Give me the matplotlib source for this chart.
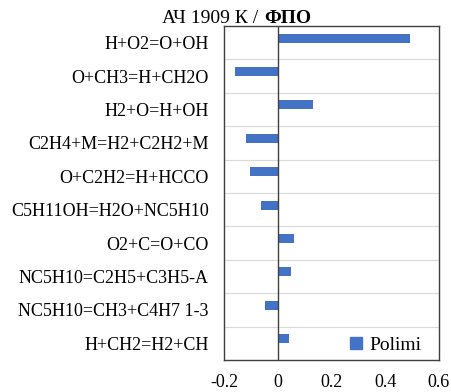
import numpy as np
import matplotlib
matplotlib.use('Agg')
import matplotlib.pyplot as plt
from matplotlib.patches import Patch

reactions = ['H+O2=O+OH', 'O+CH3=H+CH2O', 'H2+O=H+OH', 'C2H4+M=H2+C2H2+M',
             'O+C2H2=H+HCCO', 'C5H11OH=H2O+NC5H10', 'O2+C=O+CO',
             'NC5H10=C2H5+C3H5-A', 'NC5H10=CH3+C4H7 1-3', 'H+CH2=H2+CH']
polimi = [0.491, -0.158, 0.131, -0.118, -0.103, -0.064, 0.059, 0.050, -0.046, 0.041]
xticks = [-0.2, 0, 0.2, 0.4, 0.6]
xlabels = ['-0.2', '0', '0.2', '0.4', '0.6']

plt.rcParams['font.family'] = ['Liberation Serif', 'DejaVu Serif']
plt.rcParams['font.size'] = 13

fig = plt.figure(figsize=(4.52, 3.92), dpi=100)
W, H = 452, 392
ax = fig.add_axes([224 / W, 1 - 360 / H, (439 - 224) / W, (360 - 26) / H])

ypos = np.arange(len(reactions))
bar_h = 0.27
ax.barh(ypos - bar_h / 2, polimi, height=bar_h, color='#4472C4', zorder=3)

ax.set_ylim(len(reactions) - 0.5, -0.5)
ax.set_xlim(-0.2, 0.6)
ax.set_yticks(ypos)
ax.set_yticklabels(reactions)
ax.set_xticks(xticks)
ax.set_xticklabels(xlabels)
ax.tick_params(length=0)
ax.tick_params(axis='y', pad=11)
ax.tick_params(axis='x', pad=10)

# row separators
for b in np.arange(0.5, len(reactions) - 0.5, 1):
    ax.axhline(b, color='#D9D9D9', lw=0.8, zorder=1)
ax.axvline(0, color='#404040', lw=1.0, zorder=4)
for s in ax.spines.values():
    s.set_color('#404040')
    s.set_linewidth(1.0)

ax.legend(handles=[Patch(color='#4472C4', label='Polimi')], loc='lower right',
          frameon=False, handlelength=0.6, handleheight=0.6, handletextpad=0.4,
          bbox_to_anchor=(0.955, -0.005), borderaxespad=0.0, fontsize=14)

fig.text(258 / W, 1 - 23 / H, 'АЧ 1909 К /', ha='right', va='baseline', fontsize=14)
fig.text(264 / W, 1 - 23 / H, 'ФПО', ha='left', va='baseline', fontsize=14,
         fontweight='bold')

fig.savefig('out.png', dpi=100)
